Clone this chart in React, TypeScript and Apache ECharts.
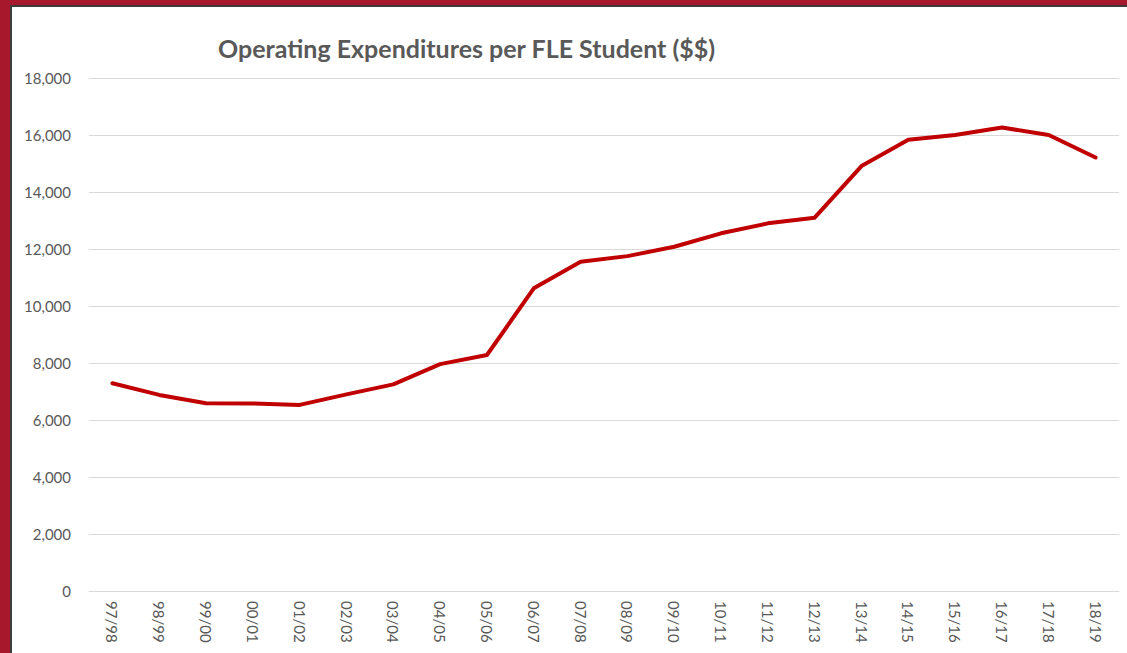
import React, { useEffect, useRef } from "react";
import * as echarts from "echarts";

const categories = [
  "97/98", "98/99", "99/00", "00/01", "01/02", "02/03", "03/04", "04/05",
  "05/06", "06/07", "07/08", "08/09", "09/10", "10/11", "11/12", "12/13",
  "13/14", "14/15", "15/16", "16/17", "17/18", "18/19",
];

const expenditures = [
  7290, 6880, 6590, 6580, 6530, 6900, 7250, 7960,
  8280, 10620, 11550, 11750, 12080, 12550, 12900, 13100,
  14910, 15830, 16000, 16260, 16000, 15210,
];

const yTicks = { min: 0, max: 18000, interval: 2000 };

const titleText = "Operating Expenditures per FLE Student ($$)";

export default function App() {
  const ref = useRef<HTMLDivElement>(null);

  useEffect(() => {
    if (!ref.current) return;
    const chart = echarts.init(ref.current, null, { renderer: "svg" });
    chart.setOption({
      animation: false,
      backgroundColor: "#ffffff",
      title: {
        text: titleText,
        left: 213,
        top: 30,
        textStyle: {
          fontFamily: "Lato",
          fontWeight: "bold",
          fontSize: 25,
          color: "#595959",
        },
      },
      graphic: [
        { type: "rect", left: 0, top: 0, shape: { width: 1127, height: 5 }, style: { fill: "#A8182C" } },
        { type: "rect", left: 0, top: 5, shape: { width: 1127, height: 2 }, style: { fill: "#3c3c3c" } },
        { type: "rect", left: 0, top: 0, shape: { width: 10, height: 653 }, style: { fill: "#A8182C" } },
        { type: "rect", left: 10, top: 5, shape: { width: 2, height: 648 }, style: { fill: "#3c3c3c" } },
      ],
      grid: { left: 89, right: 8, top: 78, bottom: 62, containLabel: false },
      xAxis: {
        type: "category",
        data: categories,
        boundaryGap: true,
        axisLine: { show: true, lineStyle: { color: "#d9d9d9", width: 1 } },
        axisTick: { show: false },
        axisLabel: {
          rotate: -90,
          margin: 10,
          interval: 0,
          fontFamily: "Lato",
          fontSize: 15,
          color: "#595959",
        },
      },
      yAxis: {
        type: "value",
        min: yTicks.min,
        max: yTicks.max,
        interval: yTicks.interval,
        axisLine: { show: false },
        axisTick: { show: false },
        splitLine: { lineStyle: { color: "#d9d9d9", width: 1 } },
        axisLabel: {
          margin: 18,
          fontFamily: "Lato",
          fontSize: 15,
          color: "#595959",
          formatter: (v: number) => v.toLocaleString("en-US"),
        },
      },
      series: [
        {
          type: "line",
          data: expenditures,
          symbol: "none",
          lineStyle: { color: "#C00000", width: 4, cap: "round", join: "round" },
        },
      ],
    });
    return () => chart.dispose();
  }, []);

  return (
    <div
      ref={ref}
      style={{ position: "fixed", left: 0, top: 0, width: 1127, height: 653 }}
    />
  );
}
